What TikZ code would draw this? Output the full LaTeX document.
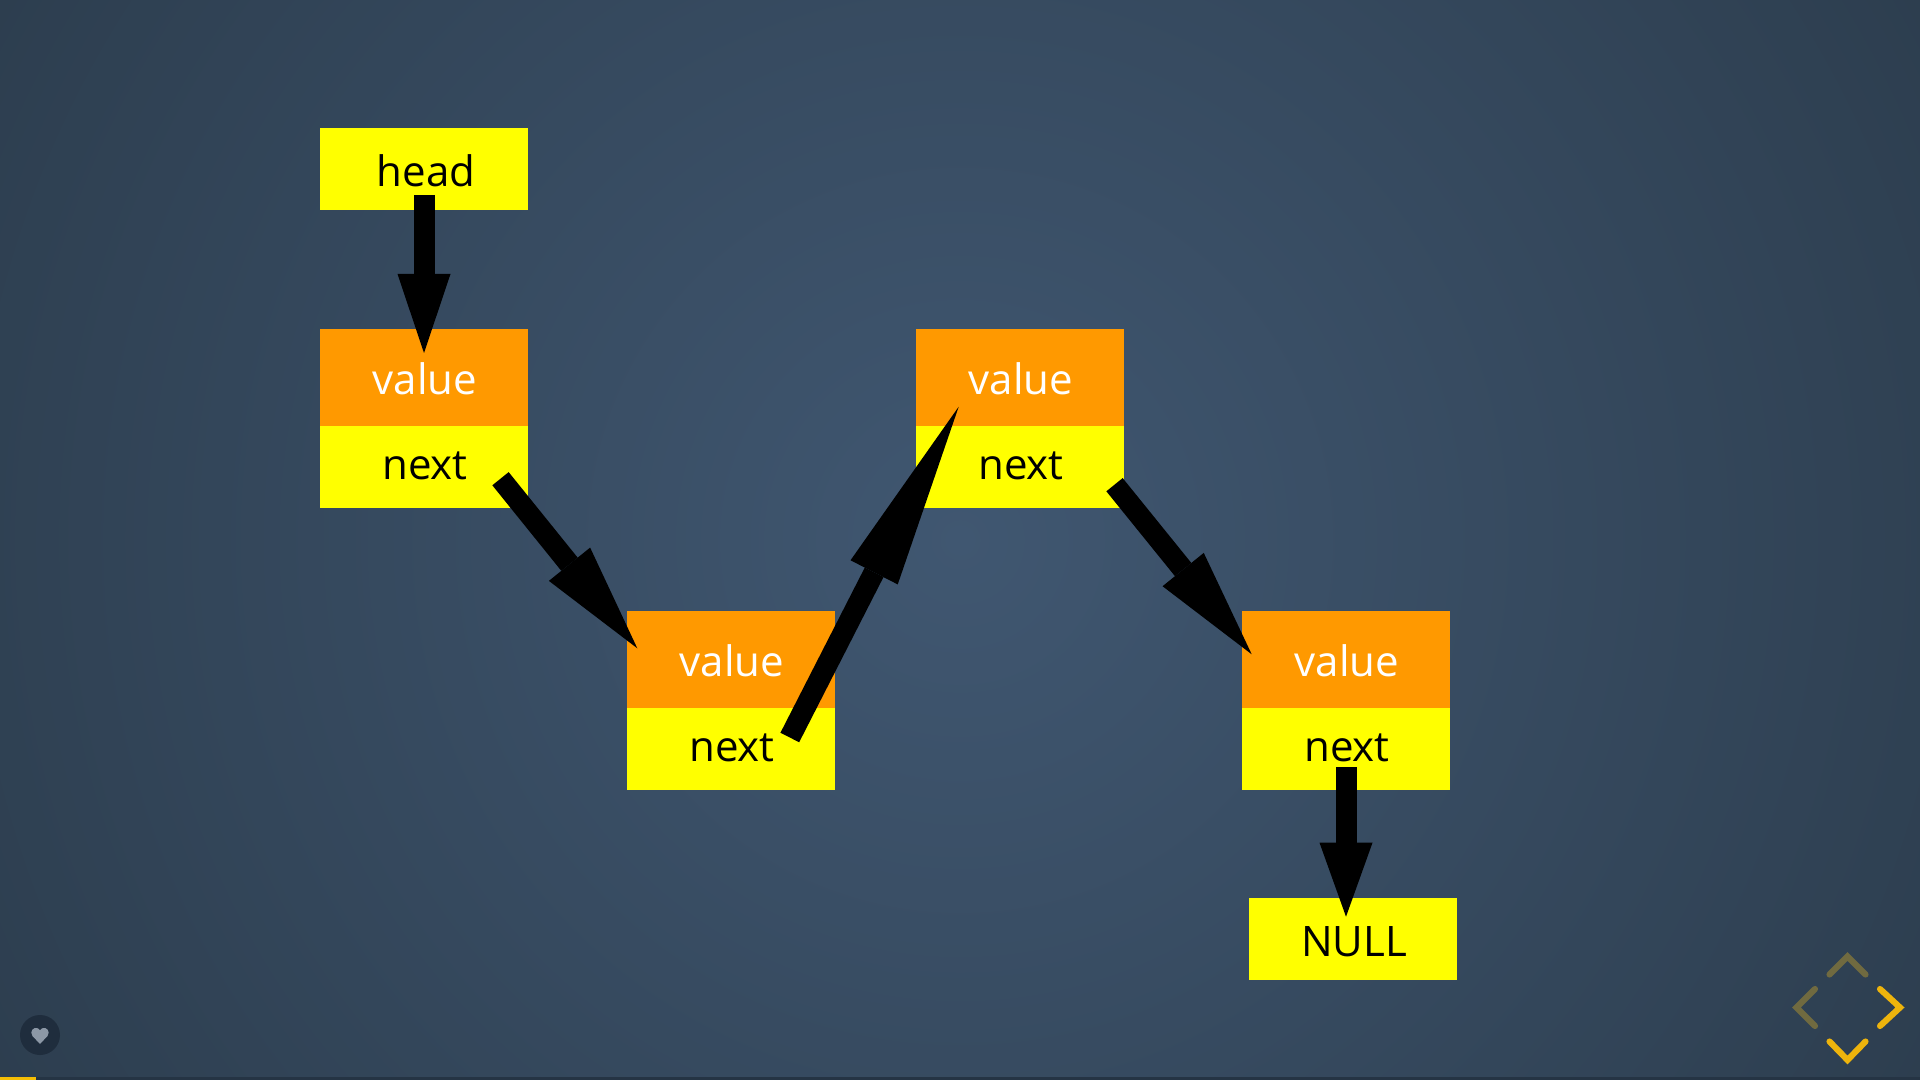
\documentclass[tikz,border=0pt]{standalone}
\usepackage{fontspec}
\setmainfont{Open Sans}
\usetikzlibrary{arrows.meta}
\definecolor{cellyellow}{RGB}{255,255,0}
\definecolor{cellorange}{RGB}{255,153,0}
\definecolor{navbright}{RGB}{238,180,12}
\definecolor{navdim}{RGB}{112,106,64}
\definecolor{barcolor}{RGB}{37,52,68}
\definecolor{barfill}{RGB}{245,190,5}
\definecolor{heartback}{RGB}{31,45,61}
\definecolor{heartfill}{RGB}{140,152,166}
\pgfdeclareradialshading{slideback}{\pgfpointorigin}{rgb(0bp)=(0.251,0.341,0.443); rgb(25bp)=(0.176,0.243,0.310); rgb(50bp)=(0.176,0.243,0.310)}
\tikzset{
  cell/.style={minimum width=156pt,inner sep=0pt,outer sep=0pt,font=\fontsize{31.5}{36}\selectfont,text depth=0pt,execute at begin node=\hspace*{1.5pt}},
  headcell/.style={cell,fill=cellyellow,text=black,minimum height=61.5pt,text height=26.5pt},
  valuecell/.style={cell,fill=cellorange,text=white,minimum height=73pt,text height=25.5pt},
  nextcell/.style={cell,fill=cellyellow,text=black,minimum height=61.5pt,text height=18.75pt},
  pointer/.style={line width=15.75pt,draw=black,-{Triangle[length=#1,width=39.75pt,line width=0pt]}},
  navmark/.style={line width=4.6pt,line cap=round,line join=miter},
}
\begin{document}
\begin{tikzpicture}[x=0.75pt,y=0.75pt,yscale=-1,xscale=1]
\useasboundingbox (0,0) rectangle (1920,1080);

%Shape: slide background
\begin{scope}
\clip (0,0) rectangle (1920,1080);
\shade [shading=slideback] (960,540) circle (1101);
\end{scope}
%Shape: progress bar
\fill [barcolor] (0,1076.5) rectangle (1920,1080);
\fill [barfill] (0,1076.5) rectangle (36,1080);

%Node: head
\node [headcell] (head) at (424,169) {\hspace*{1.5pt}head};
%Node: first list item
\node [valuecell] (value1) at (424,377.5) {value};
\node [nextcell] (next1) at (424,467) {next};
%Node: second list item
\node [valuecell] (value2) at (731,659.5) {value};
\node [nextcell] (next2) at (731,749) {next};
%Node: third list item
\node [valuecell] (value3) at (1020,377.5) {value};
\node [nextcell] (next3) at (1020,467) {next};
%Node: fourth list item
\node [valuecell] (value4) at (1346,659.5) {value};
\node [nextcell] (next4) at (1346,749) {next};
%Node: null
\node [headcell] (null) at (1353,939) {NULL};

%Ends of the pointers
\coordinate (headout) at (424,195);
\coordinate (value1in) at (424,353);
\coordinate (next1out) at (500.5,478.7);
\coordinate (value2in) at (637.3,648.3);
\coordinate (next2out) at (789.8,737.5);
\coordinate (value3in) at (958.7,406.7);
\coordinate (next3out) at (1114.5,484.7);
\coordinate (value4in) at (1251.7,654.3);
\coordinate (next4out) at (1346,767);
\coordinate (nullin) at (1346,916.7);

%Straight Lines: pointers
\draw [pointer=59.25pt] (headout) -- (value1in);
\draw [pointer=81pt] (next1out) -- (value2in);
\draw [pointer=139.5pt] (next2out) -- (value3in);
\draw [pointer=81.75pt] (next3out) -- (value4in);
\draw [pointer=55.5pt] (next4out) -- (nullin);

%Shape: heart button
\fill [heartback] (40,1035) circle (20);
\fill [heartfill] (40,1044) -- (32.5,1036) .. controls (29,1031) and (34,1027) .. (37,1028) .. controls (38.5,1028.4) and (39.5,1029.5) .. (40,1030.5) .. controls (40.5,1029.5) and (41.5,1028.4) .. (43,1028) .. controls (46,1027) and (51,1031) .. (47.5,1036) -- cycle;

%Shape: navigation arrows
\draw [navmark,navdim] (1829.5,974.5) -- (1847.5,956.5) -- (1865.5,974.5);
\draw [navmark,navdim] (1815,989) -- (1796.5,1007.5) -- (1815,1026);
\draw [navmark,navbright] (1880,989) -- (1900,1007.5) -- (1880,1026);
\draw [navmark,navbright] (1829.5,1041.5) -- (1847.5,1060) -- (1865.5,1041.5);
\end{tikzpicture}
\end{document}
